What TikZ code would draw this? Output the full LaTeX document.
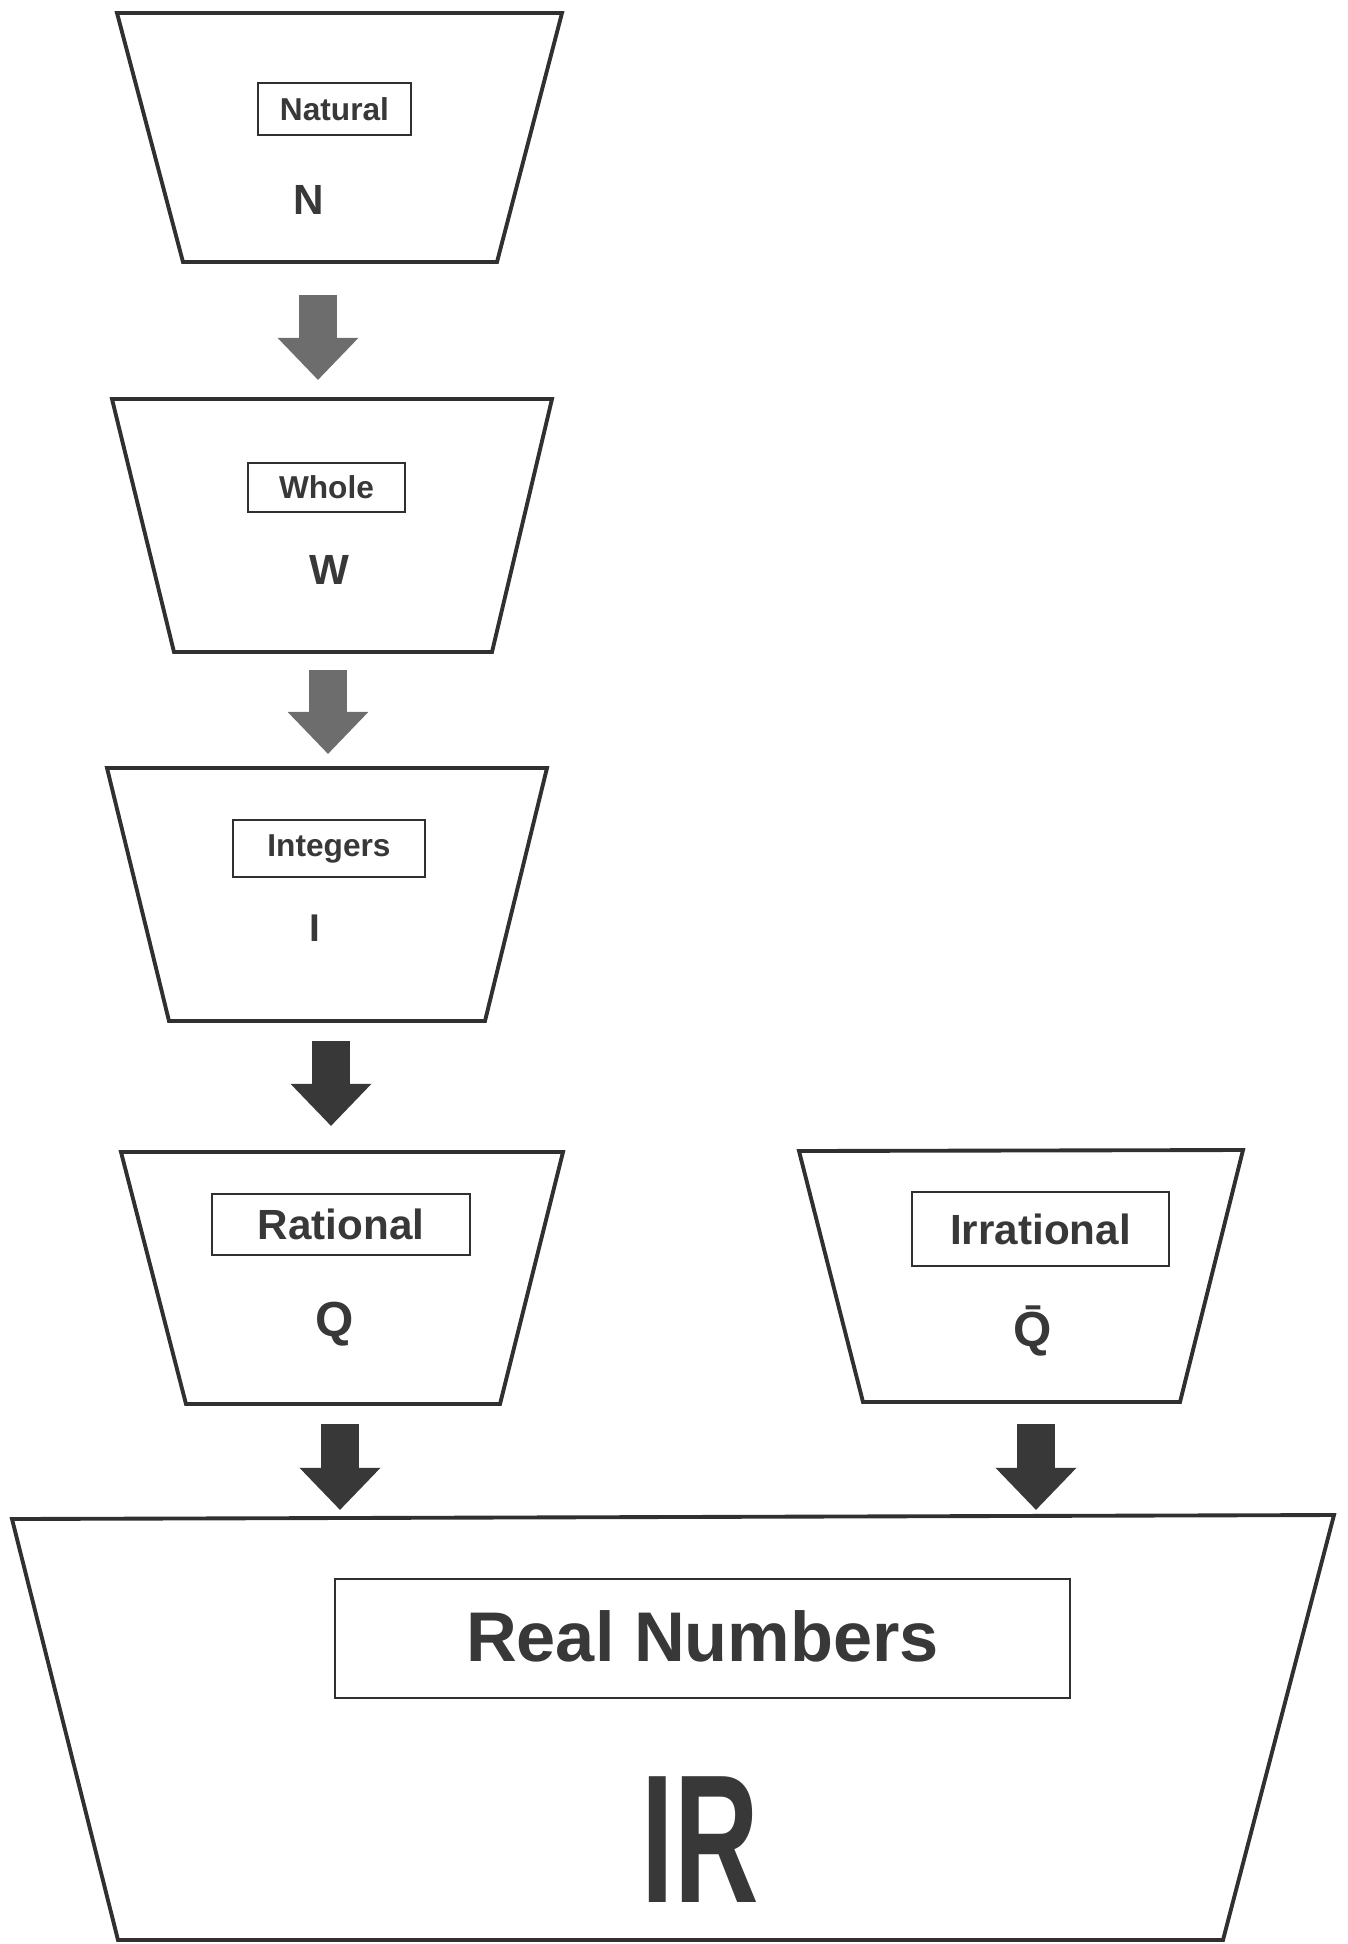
\documentclass[tikz,border=0pt]{standalone}
\usepackage{fontspec}
\setmainfont{Liberation Sans}
\usetikzlibrary{arrows.meta}

\definecolor{ink}{HTML}{383838}
\definecolor{edge}{HTML}{303030}
\definecolor{softgray}{HTML}{6D6D6D}

\tikzset{
  setline/.style={draw=edge, line width=1.1pt},
  namebox/.style={draw=edge, line width=0.6pt, inner sep=0pt, text=ink},
  setsym/.style={text=ink, font=\bfseries\fontsize{12}{12}\selectfont},
  bigarrow/.style={line width=0.38cm, -{Triangle[length=0.42cm,width=0.78cm]}},
}

\begin{document}
\begin{tikzpicture}[x=0.01cm, y=-0.01cm]
\useasboundingbox (0,0) rectangle (1348,1944);

\draw[setline] (117,13) -- (562,13) -- (497,262) -- (183,262) -- cycle;
\draw[setline] (112,399) -- (552,399) -- (492,652) -- (174,652) -- cycle;
\draw[setline] (107,768) -- (547,768) -- (485,1021) -- (169,1021) -- cycle;
\draw[setline] (121,1152) -- (563,1152) -- (500,1404) -- (186,1404) -- cycle;
\draw[setline] (799,1151) -- (1243,1150) -- (1180,1402) -- (863,1402) -- cycle;
\draw[setline] (12,1519) -- (1334,1515) -- (1223,1940) -- (118,1940) -- cycle;

\node[namebox, minimum width=1.53cm, minimum height=0.52cm, font=\bfseries\fontsize{9}{9}\selectfont] (natname) at (334.5,109) {Natural};
\node[namebox, minimum width=1.57cm, minimum height=0.49cm, font=\bfseries\fontsize{9}{9}\selectfont] (wholename) at (326.5,487.5) {Whole};
\node[namebox, minimum width=1.92cm, minimum height=0.57cm, font=\bfseries\fontsize{9}{9}\selectfont] (intname) at (329,848.5) {Integers};
\node[namebox, minimum width=2.58cm, minimum height=0.61cm, font=\bfseries\fontsize{12}{12}\selectfont] (ratname) at (341,1224.5) {Rational};
\node[namebox, minimum width=2.57cm, minimum height=0.74cm, font=\bfseries\fontsize{12}{12}\selectfont] (irrname) at (1040.5,1229) {Irrational};
\node[namebox, minimum width=7.35cm, minimum height=1.19cm, font=\bfseries\fontsize{20}{20}\selectfont] (realname) at (702.5,1638.5) {\raisebox{1.5pt}{Real Numbers}};

\node[setsym] (natsym) at (309,200) {N};
\node[setsym] (wholesym) at (329,570) {W};
\node[setsym, font=\bfseries\fontsize{11}{11}\selectfont] (intsym) at (315,928) {I};
\node[setsym, font=\bfseries\fontsize{14}{14}\selectfont] (ratsym) at (335,1324) {Q};
\node[setsym, font=\bfseries\fontsize{14}{14}\selectfont] (irrsym) at (1033,1331) {\={Q}};
\node[setsym, font=\bfseries\fontsize{52}{52}\selectfont] (realsym) at (700,1840) {\scalebox{0.64}[1]{IR}};

\coordinate (natout) at (318,295);
\coordinate (wholein) at (318,380);
\coordinate (wholeout) at (328,670);
\coordinate (intin) at (328,754);
\coordinate (intout) at (331,1041);
\coordinate (ratin) at (331,1126);
\coordinate (ratout) at (340,1424);
\coordinate (realinl) at (340,1510);
\coordinate (irrout) at (1036,1424);
\coordinate (realinr) at (1036,1510);

\draw[bigarrow, softgray] (natout) -- (wholein);
\draw[bigarrow, softgray] (wholeout) -- (intin);
\draw[bigarrow, ink] (intout) -- (ratin);
\draw[bigarrow, ink] (ratout) -- (realinl);
\draw[bigarrow, ink] (irrout) -- (realinr);
\end{tikzpicture}
\end{document}
